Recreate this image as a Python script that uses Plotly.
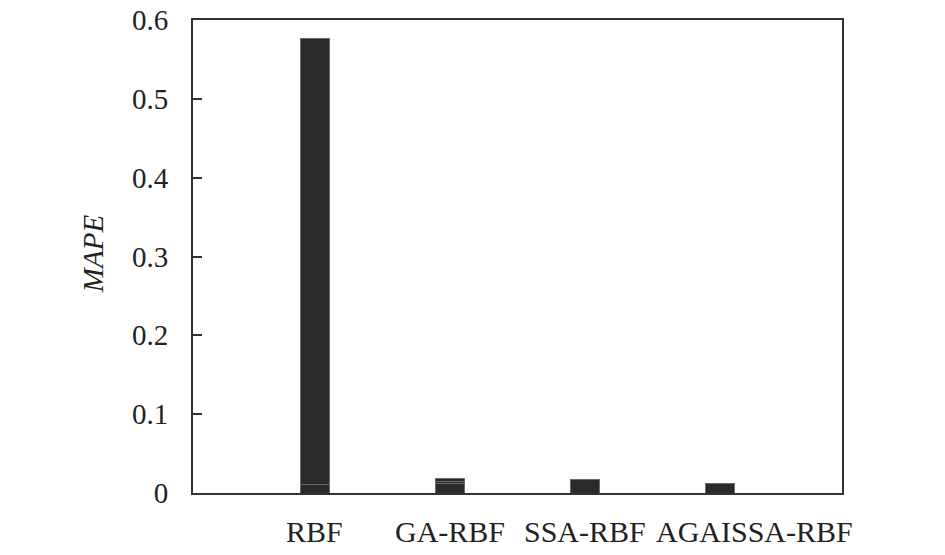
import plotly.graph_objects as go

categories = ["RBF", "GA-RBF", "SSA-RBF", "AGAISSA-RBF"]
# stacked segments (faint internal lines in bars)
seg_base = [0.011, 0.0118, 0.0165, 0.0123]
seg_mid = [0.565, 0.0034, 0.0, 0.0]
seg_top = [0.0, 0.0035, 0.0, 0.0]

x_idx = list(range(len(categories)))
label_pos = [0, 1, 2, 3.25]  # horizontal centres of the category texts
fill = "#2a2a2a"
edge = "#6a6a6a"
serif = "Liberation Serif"

fig = go.Figure()
for seg in (seg_base, seg_mid, seg_top):
    fig.add_trace(go.Bar(
        x=x_idx, y=seg, width=0.214,
        marker=dict(color=fill, line=dict(color=edge, width=1)),
        showlegend=False, hoverinfo="skip",
    ))

for name, px in zip(categories, label_pos):
    fig.add_annotation(
        x=px, y=0, xref="x", yref="paper", yanchor="top",
        text=name, showarrow=False, yshift=-20,
        font=dict(family=serif, size=30, color="#222222"),
    )

fig.add_annotation(
    x=0, y=0.505, xref="paper", yref="paper", xanchor="center", yanchor="middle",
    xshift=-100, text="<i>MAPE</i>", textangle=-90, showarrow=False,
    font=dict(family=serif, size=29, color="#222222"),
)

fig.update_layout(
    barmode="stack",
    width=945, height=555,
    margin=dict(l=193, r=103, t=20, b=62, autoexpand=False),
    paper_bgcolor="white", plot_bgcolor="white",
    font=dict(family=serif, color="#222222"),
    xaxis=dict(
        range=[-0.9, 3.9],
        tickmode="array", tickvals=x_idx, showticklabels=False,
        automargin=False,
        showline=True, linecolor="#333333", linewidth=2, mirror=True,
        showgrid=False, zeroline=False,
    ),
    yaxis=dict(
        range=[0, 0.6], automargin=False,
        tickmode="array",
        tickvals=[0, 0.1, 0.2, 0.3, 0.4, 0.5, 0.6],
        ticktext=["0", "0.1", "0.2", "0.3", "0.4", "0.5", "0.6"],
        ticks="inside", ticklen=9, tickwidth=2, tickcolor="#333333",
        ticklabelstandoff=17, ticklabeloverflow="allow",
        tickfont=dict(family=serif, size=29, color="#222222"),
        showline=True, linecolor="#333333", linewidth=2, mirror=True,
        showgrid=False, zeroline=False,
    ),
)

fig.write_html("out.html", config={"displayModeBar": False},
               post_script="document.body.style.margin='0';")
